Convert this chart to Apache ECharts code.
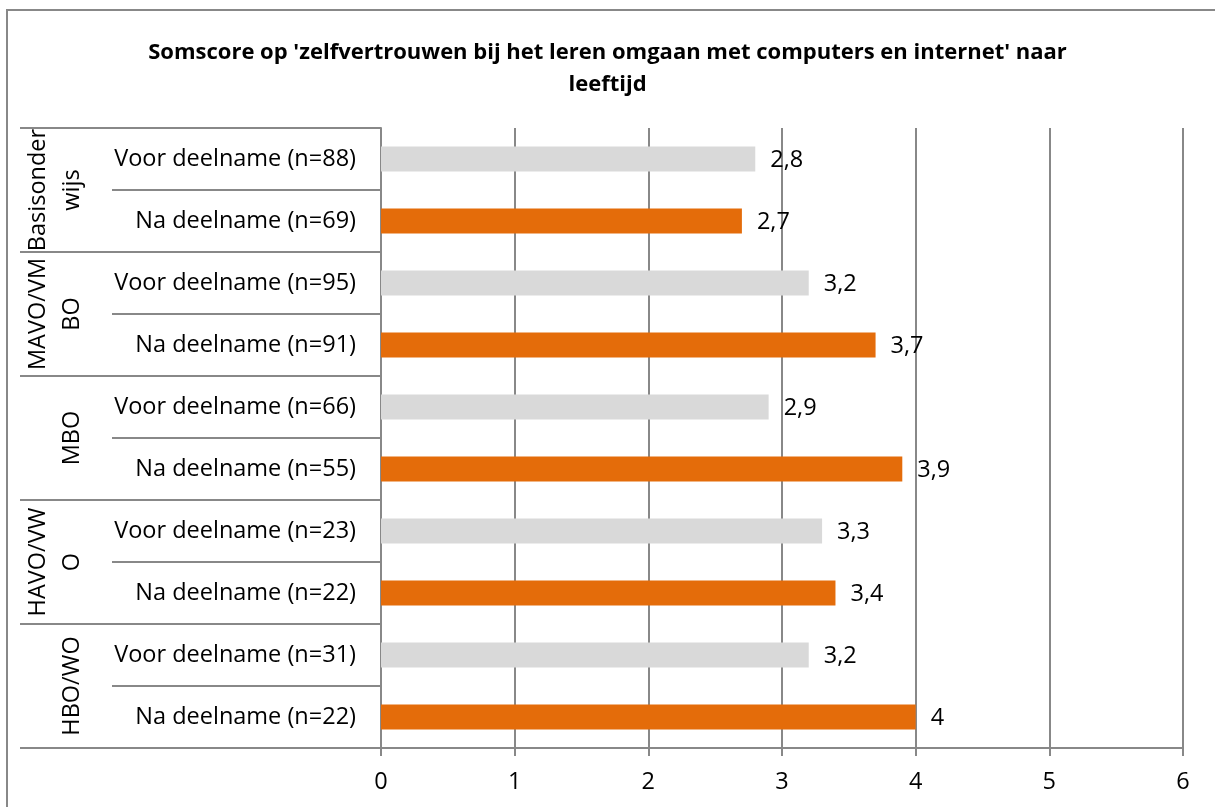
<!DOCTYPE html>
<html>
<head>
<meta charset="utf-8">
<script src="https://cdn.jsdelivr.net/npm/echarts@6/dist/echarts.min.js"></script>
<style>
  html, body { margin: 0; padding: 0; background: #ffffff; }
  #chart { width: 1215px; height: 807px; }
</style>
</head>
<body>
<div id="chart"></div>
<script>
// Schooltype groups (outer category level), top to bottom
const groups = ['Basisonder\nwijs', 'MAVO/VM\nBO', 'MBO', 'HAVO/VW\nO', 'HBO/WO'];

// Measurement moments (inner category level), top to bottom
const rows = [
  'Voor deelname (n=88)', 'Na deelname (n=69)',
  'Voor deelname (n=95)', 'Na deelname (n=91)',
  'Voor deelname (n=66)', 'Na deelname (n=55)',
  'Voor deelname (n=23)', 'Na deelname (n=22)',
  'Voor deelname (n=31)', 'Na deelname (n=22)'
];

// Sum scores per row
const scores = [2.8, 2.7, 3.2, 3.7, 2.9, 3.9, 3.3, 3.4, 3.2, 4];

// Value axis range
const axisMin = 0;
const axisMax = 6;
const axisStep = 1;

const FONT = '"Open Sans", "Noto Sans", sans-serif';
const LINE = '#888888';
const VOOR_COLOR = '#d9d9d9';
const NA_COLOR = '#e46c0a';

const chart = echarts.init(document.getElementById('chart'), null, { renderer: 'canvas' });

chart.setOption({
  backgroundColor: '#ffffff',
  animation: false,
  title: {
    text: "Somscore op 'zelfvertrouwen bij het leren omgaan met computers en internet' naar\nleeftijd",
    left: 'center',
    top: 32,
    textStyle: {
      fontFamily: FONT,
      fontWeight: 'bold',
      fontSize: 22,
      lineHeight: 32,
      color: '#000000'
    }
  },
  graphic: [{
    type: 'rect',
    shape: { x: 7, y: 10, width: 1400, height: 1000 },
    style: { fill: 'none', stroke: LINE, lineWidth: 2 },
    silent: true,
    z: -1
  }],
  grid: {
    left: 381,
    right: 32,
    top: 128,
    bottom: 59,
    containLabel: false
  },
  xAxis: {
    type: 'value',
    min: axisMin,
    max: axisMax,
    interval: axisStep,
    axisLine: { show: true, lineStyle: { color: LINE, width: 2 } },
    axisTick: { show: true, length: 8, lineStyle: { color: LINE, width: 2 } },
    splitLine: { show: true, lineStyle: { color: LINE, width: 2 } },
    axisLabel: {
      margin: 22,
      fontFamily: FONT,
      fontSize: 23.5,
      color: '#000000'
    }
  },
  yAxis: [
    {
      type: 'category',
      data: rows,
      inverse: true,
      position: 'left',
      axisLine: { show: true, lineStyle: { color: LINE, width: 2 } },
      axisTick: { show: true, length: 269, lineStyle: { color: LINE, width: 2 } },
      splitLine: { show: false },
      axisLabel: {
        interval: 0,
        hideOverlap: false,
        margin: 25,
        fontFamily: FONT,
        fontSize: 23.5,
        color: '#000000'
      }
    },
    {
      type: 'category',
      data: groups,
      inverse: true,
      position: 'left',
      offset: 0,
      axisLine: { show: false },
      axisTick: { show: true, interval: 0, length: 361, lineStyle: { color: LINE, width: 2 } },
      splitLine: { show: false },
      axisLabel: {
        interval: 0,
        hideOverlap: false,
        margin: 292,
        rotate: 90,
        align: 'center',
        verticalAlign: 'bottom',
        fontFamily: FONT,
        fontSize: 23.5,
        lineHeight: 34,
        color: '#000000'
      }
    }
  ],
  series: [{
    type: 'bar',
    yAxisIndex: 0,
    barWidth: 25,
    data: scores.map((v, i) => ({
      value: v,
      itemStyle: { color: i % 2 === 0 ? VOOR_COLOR : NA_COLOR }
    })),
    label: {
      show: true,
      position: 'right',
      distance: 15,
      offset: [0, 1],
      fontFamily: FONT,
      fontSize: 23.5,
      color: '#000000',
      formatter: p => String(p.value).replace('.', ',')
    }
  }]
});
</script>
</body>
</html>
